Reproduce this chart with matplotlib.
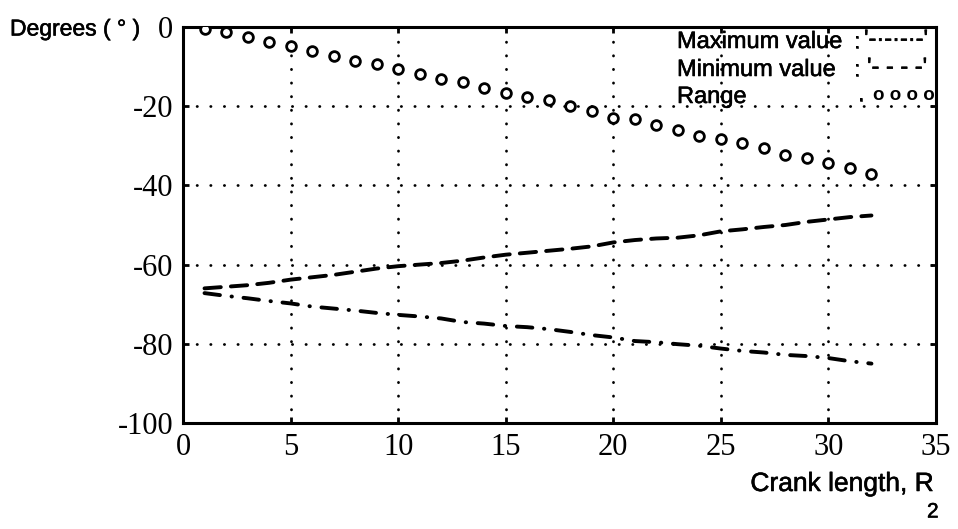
import matplotlib
matplotlib.use("Agg")
import matplotlib.pyplot as plt
import matplotlib.patheffects as pe

plt.rcParams["axes.unicode_minus"] = False

# Crank length R2 (integer steps)
crank = list(range(1, 33))

# Range of the transmission angle (degrees)
range_deg = [-0.5, -1.2, -2.5, -3.9, -4.7, -6.0, -7.3, -8.5, -9.4, -10.6,
             -11.9, -13.2, -14.0, -15.3, -16.7, -17.8, -18.5, -19.9, -21.2, -22.9,
             -23.3, -24.8, -26.0, -27.5, -28.4, -29.4, -30.6, -32.4, -33.0, -34.3,
             -35.5, -37.0]

# Minimum value (degrees)
min_deg = [-66.0, -65.6, -65.2, -64.6, -63.8, -63.2, -62.6, -61.8, -61.0, -60.4,
           -60.0, -59.6, -59.0, -58.2, -57.5, -57.0, -56.5, -56.0, -55.4, -54.4,
           -53.8, -53.4, -53.2, -52.6, -51.6, -51.1, -50.5, -50.0, -49.2, -48.6,
           -48.0, -47.6]

# Maximum value (degrees)
max_deg = [-67.2, -67.9, -68.5, -69.2, -69.8, -70.6, -71.1, -71.6, -72.2, -72.7,
           -73.1, -73.6, -74.5, -74.9, -75.5, -75.8, -76.3, -77.0, -77.8, -78.4,
           -79.3, -79.6, -80.1, -80.5, -81.2, -81.8, -82.2, -82.8, -83.1, -83.6,
           -84.4, -85.0]

x_ticks = [0, 5, 10, 15, 20, 25, 30, 35]
y_ticks = [0, -20, -40, -60, -80, -100]

W, H = 958, 529
fig = plt.figure(figsize=(W / 100, H / 100), dpi=100)
ax = fig.add_axes([183 / W, 1 - 423 / H, (936 - 183) / W, (423 - 27) / H])

ax.set_xlim(0, 35)
ax.set_ylim(-100, 0)
ax.set_xticks(x_ticks)
ax.set_yticks(y_ticks)
ax.set_xticklabels([str(v) for v in x_ticks])
ax.set_yticklabels([str(v) for v in y_ticks])

serif = ["Liberation Serif", "DejaVu Serif"]
sans = ["Liberation Sans", "DejaVu Sans"]
heavy = [pe.withStroke(linewidth=0.4, foreground="black")]

for lab in ax.get_xticklabels() + ax.get_yticklabels():
    lab.set_family(serif)
    lab.set_fontsize(22)

ax.tick_params(direction="in", length=4, width=2, top=True, right=True,
               pad=7, color="black")

for sp in ax.spines.values():
    sp.set_linewidth(2.2)
    sp.set_color("black")

ax.grid(True, color="black", linewidth=2.0, linestyle=(0, (0.1, 4.8)),
        dash_capstyle="round")
ax.set_axisbelow(True)

# Range: open circles
ax.plot(crank, range_deg, linestyle="none", marker="o", markersize=7,
        markerfacecolor="white", markeredgecolor="black", markeredgewidth=2.0,
        zorder=3)

# Minimum value: dashed
ax.plot(crank, min_deg, color="black", linewidth=2.8,
        linestyle=(0, (4.2, 2.6)), dash_capstyle="round", zorder=3)

# Maximum value: dash-dot
ax.plot(crank, max_deg, color="black", linewidth=2.8,
        linestyle=(0, (4.0, 3.0, 0.1, 3.0)), dash_capstyle="round", zorder=3)


def ftext(px, py, s, **kw):
    return fig.text(px / W, 1 - py / H, s, **kw)


# Legend written as text inside the plot
leg = dict(family=sans, fontsize=17, va="center", ha="left", color="black",
           path_effects=heavy)
ftext(677, 42, "Maximum value", **leg)
ftext(854, 42, ":", **leg)
ftext(864, 40, "'-·-·-·-'", **leg)
ftext(677, 70, "Minimum value", **leg)
ftext(854, 70, ":", **leg)
ftext(867, 68, "'- - - -'", **leg)
ftext(677, 97, "Range", **leg)
ftext(858, 95, ".", **leg)
ftext(873, 96, "o o o o", family=sans, fontsize=13.5, fontweight="bold",
      va="center", ha="left", color="black")

# Axis captions
ftext(10, 29, "Degrees ( ° )", family=sans, fontsize=16.5, va="center",
      ha="left", color="black", path_effects=heavy)
ftext(934, 484, "Crank length, R", family=sans, fontsize=19, va="center",
      ha="right", color="black", path_effects=heavy)
ftext(927, 512, "2", family=sans, fontsize=15, va="center", ha="left",
      color="black", path_effects=heavy)

fig.savefig("out.png", dpi=100, facecolor="white")
